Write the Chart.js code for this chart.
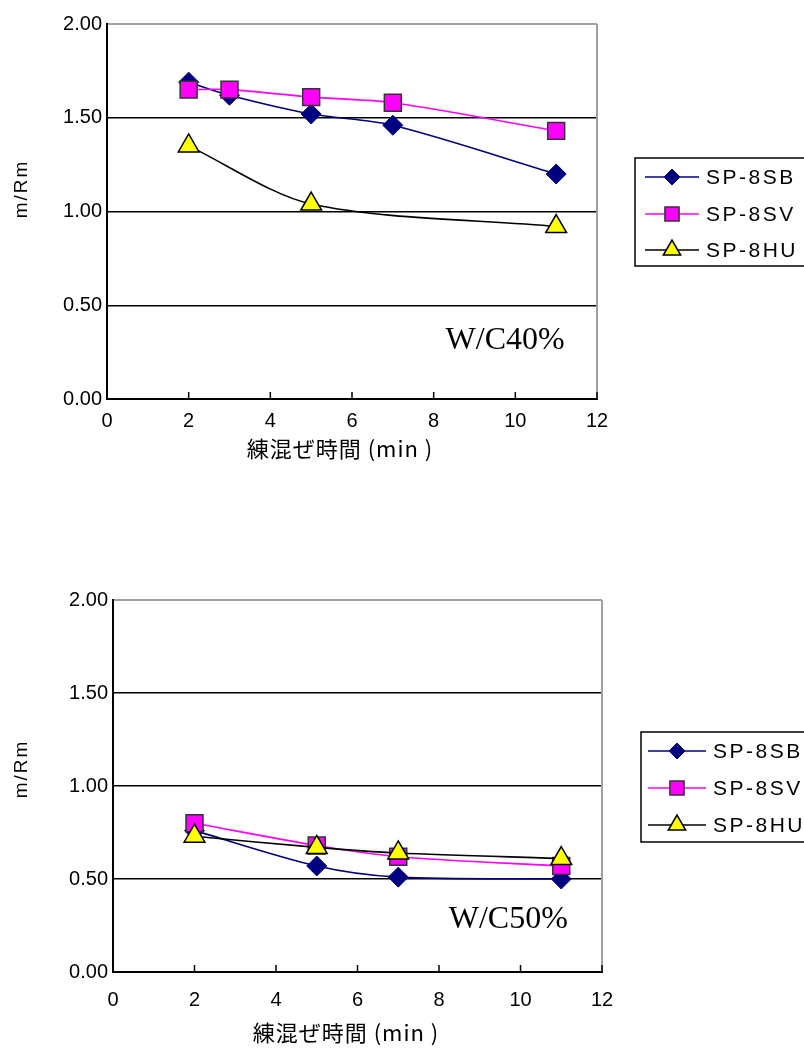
<!DOCTYPE html>
<html>
<head>
<meta charset="utf-8">
<script src="https://cdn.jsdelivr.net/npm/chart.js@4.4.1/dist/chart.umd.min.js"></script>
<style>
  html, body { margin: 0; padding: 0; background: #fff; }
  body { width: 804px; height: 1054px; position: relative; overflow: hidden; }
  .box { position: absolute; left: 0; width: 804px; }
</style>
</head>
<body>
<div class="box" style="top:0;height:500px;"><canvas id="c1"></canvas></div>
<div class="box" style="top:575px;height:479px;"><canvas id="c2"></canvas></div>
<script>
// ---------- data ----------
const seriesNames = ['SP-8SB', 'SP-8SV', 'SP-8HU'];
const xTickValues = [0, 2, 4, 6, 8, 10, 12];
const yTickValues = [0, 0.5, 1.0, 1.5, 2.0];

// W/C 40%
const sb40X = [2, 3, 5, 7, 11];
const sb40Y = [1.69, 1.62, 1.52, 1.46, 1.20];
const sv40X = [2, 3, 5, 7, 11];
const sv40Y = [1.65, 1.65, 1.61, 1.58, 1.43];
const hu40X = [2, 5, 11];
const hu40Y = [1.35, 1.04, 0.92];

// W/C 50%
const sb50X = [2, 5, 7, 11];
const sb50Y = [0.76, 0.57, 0.51, 0.50];
const sv50X = [2, 5, 7, 11];
const sv50Y = [0.80, 0.68, 0.62, 0.57];
const hu50X = [2, 5, 7, 11];
const hu50Y = [0.73, 0.67, 0.64, 0.61];

const xTitle = '練混ぜ時間 (min )';
const yTitle = 'm/Rm';
const label40 = 'W/C40%';
const label50 = 'W/C50%';

// ---------- helpers ----------
const pts = (xs, ys) => xs.map((x, i) => ({ x: x, y: ys[i] }));
const SANS = '"Liberation Sans", Arial, sans-serif';

const styles = [
  { line: '#000080', fill: '#000080', border: '#000080', shape: 'rectRot', r: 10, bw: 1, lr: 8 },
  { line: '#FF00FF', fill: '#FF00FF', border: '#333333', shape: 'rect', r: 12, bw: 1.5, lr: 10 },
  { line: '#000000', fill: '#FFFF00', border: '#000000', shape: 'triangle', r: 12, bw: 1.5, lr: 10 }
];

function makeDatasets(groups) {
  return groups.map((g, i) => ({
    label: seriesNames[i],
    data: g,
    borderColor: styles[i].line,
    borderWidth: 1.6,
    backgroundColor: styles[i].fill,
    pointStyle: styles[i].shape,
    pointRadius: styles[i].r,
    pointBackgroundColor: styles[i].fill,
    pointBorderColor: styles[i].border,
    pointBorderWidth: styles[i].bw,
    tension: 0.3,
    order: 2 - i,
    fill: false
  }));
}

function drawMarker(ctx, st, x, y, r) {
  ctx.save();
  ctx.fillStyle = st.fill;
  ctx.strokeStyle = st.border;
  ctx.lineWidth = st.bw;
  ctx.beginPath();
  if (st.shape === 'rectRot') {
    ctx.moveTo(x, y - r); ctx.lineTo(x + r, y); ctx.lineTo(x, y + r); ctx.lineTo(x - r, y); ctx.closePath();
  } else if (st.shape === 'rect') {
    const s = r * Math.SQRT1_2;
    ctx.rect(x - s, y - s, 2 * s, 2 * s);
  } else {
    const w = r * Math.sqrt(3);
    ctx.moveTo(x, y - r); ctx.lineTo(x + w / 2, y + r / 2); ctx.lineTo(x - w / 2, y + r / 2); ctx.closePath();
  }
  ctx.fill();
  ctx.stroke();
  ctx.restore();
}

function spaced(ctx, px) {
  if ('letterSpacing' in ctx) ctx.letterSpacing = px + 'px';
}

const decorPlugin = {
  id: 'decor',
  beforeDatasetsDraw(chart, args, o) {
    const ctx = chart.ctx, a = chart.chartArea;
    const xs = chart.scales.x;
    ctx.save();
    ctx.strokeStyle = '#a0a0a0';
    ctx.lineWidth = 2;
    ctx.beginPath();
    ctx.moveTo(a.right, a.top); ctx.lineTo(a.right, a.bottom);
    ctx.stroke();
    ctx.strokeStyle = '#000';
    ctx.lineWidth = 1.5;
    xs.ticks.forEach(t => {
      const px = xs.getPixelForValue(t.value);
      ctx.beginPath();
      ctx.moveTo(px, a.bottom); ctx.lineTo(px, a.bottom - 7);
      ctx.stroke();
    });
    ctx.restore();
  },
  afterDraw(chart, args, o) {
    const ctx = chart.ctx;
    const xs = chart.scales.x, ys = chart.scales.y;
    ctx.save();
    ctx.fillStyle = '#000';
    ctx.font = '32px "Liberation Serif", "Times New Roman", serif';
    ctx.textAlign = 'center';
    ctx.textBaseline = 'middle';
    ctx.fillText(o.note, xs.getPixelForValue(o.noteX), ys.getPixelForValue(o.noteY));
    // axis titles
    ctx.save();
    ctx.font = '19px ' + SANS;
    spaced(ctx, 2);
    ctx.translate(o.yTitlePos[0], o.yTitlePos[1]);
    ctx.rotate(-Math.PI / 2);
    ctx.fillText(yTitle, 0, 0);
    ctx.restore();
    ctx.save();
    ctx.font = '22px "Noto Sans CJK JP", "Liberation Sans", sans-serif';
    spaced(ctx, 1);
    ctx.fillText(xTitle, o.xTitlePos[0], o.xTitlePos[1]);
    ctx.restore();
    // legend
    const L = o.legend;
    ctx.strokeStyle = '#000';
    ctx.lineWidth = 1.5;
    ctx.strokeRect(L.x, L.y, L.w, L.h);
    chart.data.datasets.forEach((ds, i) => {
      const st = styles[i];
      const ey = L.rowY[i];
      ctx.strokeStyle = st.line;
      ctx.lineWidth = 1.6;
      ctx.beginPath();
      ctx.moveTo(L.lineX0, ey); ctx.lineTo(L.lineX1, ey);
      ctx.stroke();
      drawMarker(ctx, st, (L.lineX0 + L.lineX1) / 2, ey, st.lr);
      ctx.save();
      ctx.fillStyle = '#000';
      ctx.font = '21px ' + SANS;
      spaced(ctx, 2.5);
      ctx.textAlign = 'left';
      ctx.textBaseline = 'middle';
      ctx.fillText(ds.label, L.textX, ey + 1);
      ctx.restore();
    });
    ctx.restore();
  }
};

function makeChart(id, groups, cfg) {
  return new Chart(document.getElementById(id), {
    type: 'line',
    data: { datasets: makeDatasets(groups) },
    plugins: [decorPlugin],
    options: {
      responsive: true,
      maintainAspectRatio: false,
      animation: false,
      events: [],
      layout: { padding: { left: 0, right: cfg.padRight, top: cfg.padTop, bottom: 0 } },
      plugins: {
        legend: { display: false },
        tooltip: { enabled: false },
        decor: cfg.decor
      },
      scales: {
        x: {
          type: 'linear',
          min: 0, max: 12,
          afterBuildTicks: s => { s.ticks = xTickValues.map(v => ({ value: v })); },
          afterFit: s => { s.height = cfg.xHeight; },
          grid: { display: false, drawTicks: false },
          border: { display: true, color: '#000', width: 2 },
          ticks: {
            padding: cfg.xTickPad,
            color: '#000',
            font: { family: SANS, size: 20 },
            maxRotation: 0
          }
        },
        y: {
          type: 'linear',
          min: 0, max: 2,
          afterBuildTicks: s => { s.ticks = yTickValues.map(v => ({ value: v })); },
          afterFit: s => { s.width = cfg.yWidth; },
          grid: {
            drawTicks: false,
            color: c => (c.tick && c.tick.value === 2) ? '#a0a0a0' : '#000',
            lineWidth: c => (c.tick && c.tick.value === 2) ? 2 : 1.4
          },
          border: { display: true, color: '#000', width: 2 },
          ticks: {
            padding: 5,
            color: '#000',
            font: { family: SANS, size: 20 },
            callback: v => Number(v).toFixed(2)
          }
        }
      }
    }
  });
}

makeChart('c1', [pts(sb40X, sb40Y), pts(sv40X, sv40Y), pts(hu40X, hu40Y)], {
  padRight: 804 - 597, padTop: 24, xHeight: 500 - 399, yWidth: 107, xTickPad: 10,
  decor: {
    note: label40, noteX: 9.75, noteY: 0.31,
    yTitlePos: [22, 189], xTitlePos: [340, 449],
    legend: { x: 635, y: 158, w: 200, h: 108, rowY: [177, 214, 250], lineX0: 645, lineX1: 699, textX: 706 }
  }
});

makeChart('c2', [pts(sb50X, sb50Y), pts(sv50X, sv50Y), pts(hu50X, hu50Y)], {
  padRight: 804 - 602, padTop: 25, xHeight: 479 - 397, yWidth: 113, xTickPad: 16,
  decor: {
    note: label50, noteX: 9.7, noteY: 0.28,
    yTitlePos: [22, 194], xTitlePos: [346, 458],
    legend: { x: 641, y: 157, w: 200, h: 110, rowY: [176, 213, 250], lineX0: 648, lineX1: 706, textX: 713 }
  }
});
</script>
</body>
</html>
